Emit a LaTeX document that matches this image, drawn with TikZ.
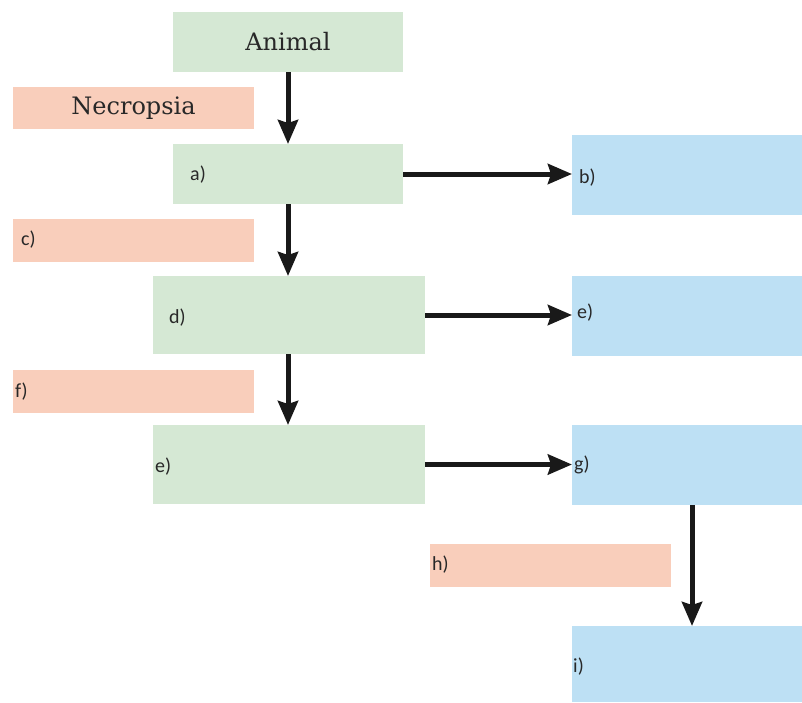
\documentclass[tikz,border=0pt]{standalone}
\usepackage{fontspec}
\setmainfont{Carlito}
\newfontfamily\slab{DejaVu Serif}
\usetikzlibrary{arrows.meta}
\definecolor{gfill}{RGB}{213,232,212}
\definecolor{ofill}{RGB}{249,206,187}
\definecolor{bfill}{RGB}{189,224,244}
\definecolor{txt}{RGB}{40,40,40}
\begin{document}
\begin{tikzpicture}[x=1pt,y=-1pt,
  box/.style 2 args={rectangle,inner sep=0pt,outer sep=0pt,minimum width=#1,minimum height=#2},
  gbox/.style={fill=gfill,draw=none},
  obox/.style={fill=ofill,draw=none},
  bbox/.style={fill=bfill,draw=none},
  lab/.style={anchor=west,inner sep=0pt,text=txt,font=\fontsize{20}{22}\selectfont},
  big/.style={text=txt,font=\slab\fontsize{24}{28}\selectfont},
  arr/.style={line width=5pt,-{Stealth[length=24pt,width=20pt,inset=3pt]},black!90}]
\useasboundingbox (0,0) rectangle (802,702);
% green
\node[box={230pt}{60pt},gbox,big] (animal) at (288,42) {Animal};
\node[box={230pt}{60pt},gbox] (a) at (288,174) {};
\node[box={272pt}{78pt},gbox] (d) at (289,315) {};
\node[box={272pt}{79pt},gbox] (e) at (289,464.5) {};
% orange
\node[box={241pt}{42pt},obox,big] (necro) at (133.5,108) {Necropsia};
\node[box={241pt}{43pt},obox] (c) at (133.5,240.5) {};
\node[box={241pt}{43pt},obox] (f) at (133.5,391.5) {};
\node[box={241pt}{43pt},obox] (h) at (550.5,565.5) {};
% blue
\node[box={230pt}{80pt},bbox] (b) at (687,175) {};
\node[box={230pt}{80pt},bbox] (eb) at (687,316) {};
\node[box={230pt}{80pt},bbox] (g) at (687,465) {};
\node[box={230pt}{76pt},bbox] (i) at (687,664) {};
% labels
\node[lab] (la) at (190,175) {a)};
\node[lab] (lb) at (579,178) {b)};
\node[lab] (lc) at (21,240) {c)};
\node[lab] (ld) at (169,318) {d)};
\node[lab] (le) at (155,467) {e)};
\node[lab] (leb) at (577,313) {e)};
\node[lab] (lf) at (15,392) {f)};
\node[lab] (lg) at (574,465) {g)};
\node[lab] (lh) at (432,565) {h)};
\node[lab] (li) at (573,667) {i)};
% arrows
\draw[arr] (animal.south) -- (a.north);
\draw[arr] (a.south) -- (a.south |- d.north);
\draw[arr] (a.south |- d.south) -- (a.south |- e.north);
\draw[arr] (a.east) -- (a.east -| b.west);
\draw[arr] (d.east) -- (d.east -| eb.west);
\draw[arr] (e.east) -- (e.east -| g.west);
\draw[arr] ([xshift=5pt]g.south) -- ([xshift=5pt]i.north);
\end{tikzpicture}
\end{document}
